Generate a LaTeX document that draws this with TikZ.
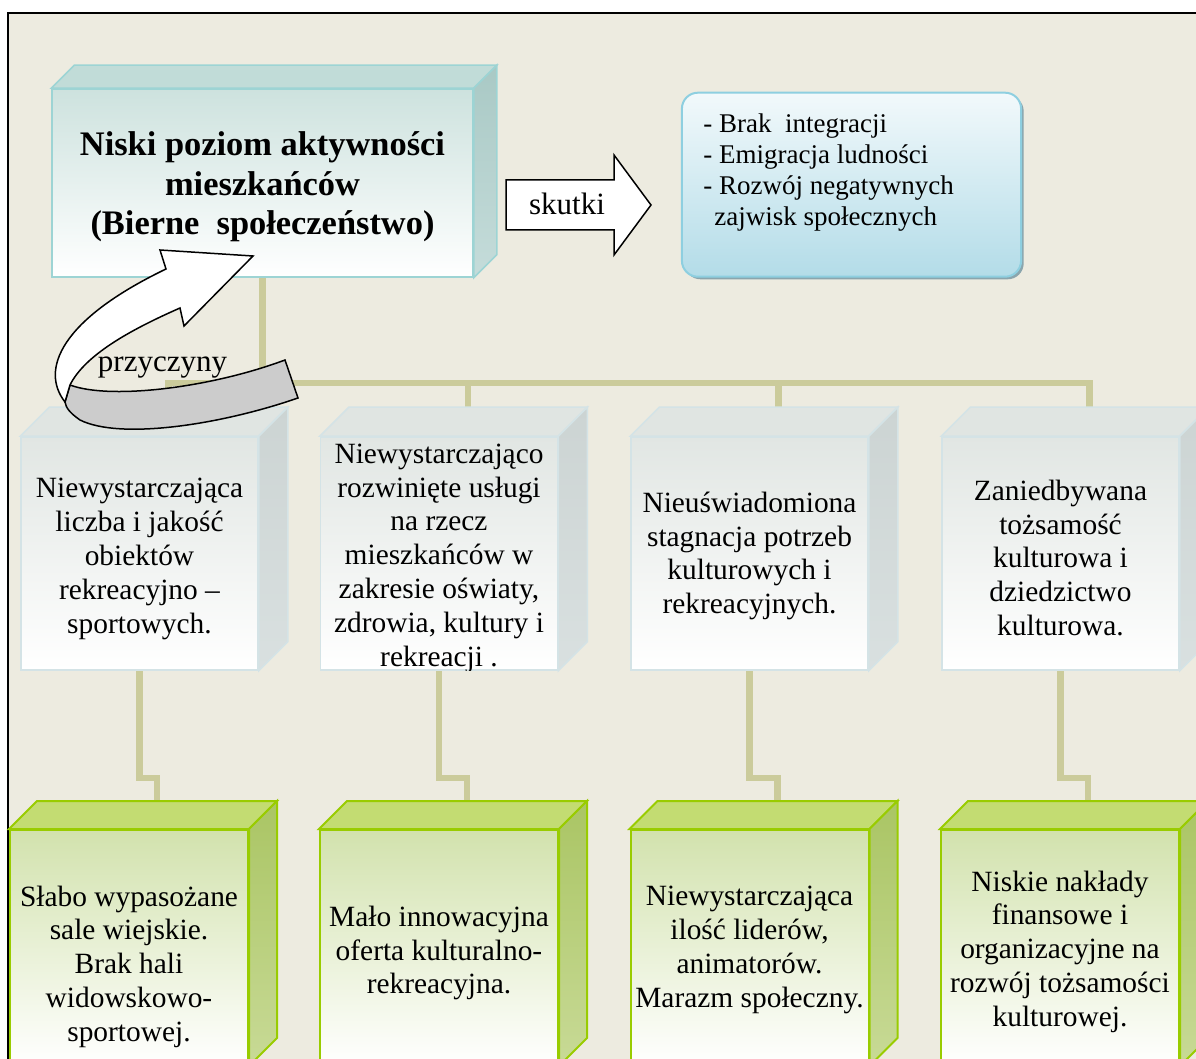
\documentclass[tikz,border=0pt]{standalone}
\usepackage{fontspec}
\setmainfont{Liberation Serif}
\usetikzlibrary{calc,shadows}
\pgfdeclarelayer{back}
\pgfdeclarelayer{wires}
\pgfsetlayers{back,wires,main}
\definecolor{bgc}{HTML}{EDEBE0}
\definecolor{connc}{HTML}{CBCB9B}
\definecolor{mainT}{HTML}{C1DCD8}
\definecolor{mainST}{HTML}{A9C9C5}
\definecolor{mainSB}{HTML}{C5DCDA}
\definecolor{mainFT}{HTML}{CDE2DE}
\definecolor{mainB}{HTML}{9DD4D4}
\definecolor{grayT}{HTML}{E0E5E2}
\definecolor{grayST}{HTML}{CCD4D3}
\definecolor{graySB}{HTML}{D9E0E0}
\definecolor{grayFT}{HTML}{E1E6E3}
\definecolor{grayB}{HTML}{D4E3E6}
\definecolor{greenT}{HTML}{C3DC72}
\definecolor{greenST}{HTML}{AAC564}
\definecolor{greenSB}{HTML}{C8DA96}
\definecolor{greenFT}{HTML}{D2E2AD}
\definecolor{greenB}{HTML}{99CC00}
\definecolor{blueT}{HTML}{F2F9FB}
\definecolor{blueBt}{HTML}{B3DCE8}
\definecolor{blueB}{HTML}{8ECFE0}
\definecolor{blueSh}{HTML}{8AA5AD}
\definecolor{arrowgray}{HTML}{CCCCCC}
\newcommand{\mkcube}[4]{%
  \path[#3] (#1.north west) -- ($(#1.north west)+(#2,-#2)$) -- ($(#1.north east)+(#2,-#2)$) -- (#1.north east) -- cycle;
  \path[#4] (#1.north east) -- ($(#1.north east)+(#2,-#2)$) -- ($(#1.south east)+(#2,-#2)$) -- (#1.south east) -- cycle;
}
\begin{document}
\begin{tikzpicture}[x=0.5pt,y=-0.5pt,
  conn/.style={draw=connc,line width=3.2pt},
  mainface/.style={draw=mainB,line width=0.75pt,top color=mainFT,bottom color=white,minimum width=210.5pt,minimum height=94pt,inner sep=0pt},
  maintop/.style={draw=mainB,line width=0.75pt,fill=mainT},
  mainside/.style={draw=mainB,line width=0.75pt,top color=mainST,bottom color=mainSB},
  grayface/.style={draw=grayB,line width=0.8pt,top color=grayFT,bottom color=white,minimum width=118.5pt,minimum height=116.5pt,inner sep=0pt},
  graytop/.style={draw=grayB,line width=0.8pt,fill=grayT},
  grayside/.style={draw=grayB,line width=0.8pt,top color=grayST,bottom color=graySB},
  greenface/.style={draw=greenB,line width=1pt,top color=greenFT,bottom color=white,minimum width=119pt,minimum height=117.5pt,inner sep=0pt},
  greentop/.style={draw=greenB,line width=1pt,fill=greenT},
  greenside/.style={draw=greenB,line width=1pt,top color=greenST,bottom color=greenSB},
  celltext/.style={align=center,font=\fontsize{14.7pt}{16.9pt}\selectfont,inner sep=0pt},
  arrowlabel/.style={font=\fontsize{15.5pt}{18pt}\selectfont,inner sep=0pt},
  outl/.style={draw=black,line width=0.75pt,line join=miter}
]
\useasboundingbox (0,0) rectangle (1196,1059);
\clip (0,0) rectangle (1196,1059);
\begin{pgfonlayer}{back}
\fill[white] (0,0) rectangle (1196,1059);
\draw[line width=1pt,fill=bgc] (8,13) rectangle (1215,1080);
\end{pgfonlayer}

% main box
\node[mainface] (m) at (262.5,183) {};
\mkcube{m}{23}{maintop}{mainside}
\node[align=center,inner sep=0pt,font=\fontsize{17.2pt}{19.75pt}\selectfont\bfseries] (mt) at (262.5,187)
  {Niski poziom aktywności\\mieszkańców\\(Bierne\ \ społeczeństwo)};

% skutki arrow
\path[outl,fill=white] (506,180) -- (614,180) -- (614,155) -- (651,205) -- (614,255) -- (614,230) -- (506,230) -- cycle;
\node[arrowlabel] (sk) at (567,204) {skutki};

% result box
\node[draw=blueB,line width=1pt,rounded corners=8pt,top color=blueT,bottom color=blueBt,
  minimum width=169.6pt,minimum height=92pt,inner sep=0pt,
  drop shadow={shadow xshift=1.3pt,shadow yshift=-1.3pt,fill=blueSh,opacity=1}] (r) at (851.5,184.7) {};
\node[anchor=north west,align=left,inner sep=0pt,font=\fontsize{13.5pt}{15.5pt}\selectfont] (rt) at (703,113.3)
  {- Brak\ \ integracji\\- Emigracja ludności\\- Rozwój negatywnych\\\hspace*{5.5pt}zajwisk społecznych};

% middle row
\node[grayface] (b1) at (139.5,553.5) {};
\node[grayface] (b2) at (439,553.5) {};
\node[grayface] (b3) at (749.5,553.5) {};
\node[grayface] (b4) at (1060.5,553.5) {};
\mkcube{b1}{29}{graytop}{grayside}
\mkcube{b2}{29}{graytop}{grayside}
\mkcube{b3}{29}{graytop}{grayside}
\mkcube{b4}{29}{graytop}{grayside}
\node[celltext] (t1) at (139.5,559) {Niewystarczająca\\liczba i jakość\\obiektów\\rekreacyjno –\\sportowych.};
\begin{scope}
\clip (b2.north west) rectangle (b2.south east);
\node[celltext] (t2) at (439,558) {Niewystarczająco\\rozwinięte usługi\\na rzecz\\mieszkańców w\\zakresie oświaty,\\zdrowia, kultury i\\rekreacji .};
\end{scope}
\node[celltext] (t3) at (749.5,556) {Nieuświadomiona\\stagnacja potrzeb\\kulturowych i\\rekreacyjnych.};
\node[celltext] (t4) at (1060.5,558) {Zaniedbywana\\tożsamość\\kulturowa i\\dziedzictwo\\kulturowa.};

% bottom row
\node[greenface] (g1) at (129,947.5) {};
\node[greenface] (g2) at (439,947.5) {};
\node[greenface] (g3) at (749.5,947.5) {};
\node[greenface] (g4) at (1060,947.5) {};
\mkcube{g1}{28}{greentop}{greenside}
\mkcube{g2}{28}{greentop}{greenside}
\mkcube{g3}{28}{greentop}{greenside}
\mkcube{g4}{28}{greentop}{greenside}
\node[celltext] (u1) at (129,966.7) {Słabo wypasożane\\sale wiejskie.\\Brak hali\\widowskowo-\\sportowej.};
\node[celltext] (u2) at (439,953) {Mało innowacyjna\\oferta kulturalno-\\rekreacyjna.};
\node[celltext] (u3) at (749.5,950) {Niewystarczająca\\ilość liderów,\\animatorów.\\Marazm społeczny.};
\node[celltext] (u4) at (1060,951.6) {Niskie nakłady\\finansowe i\\organizacyjne na\\rozwój tożsamości\\kulturowej.};

% connector coordinates
\coordinate (bus) at (0,383);
\coordinate (jog) at (0,778);
\foreach \b in {b1,b2,b3,b4} {\coordinate (\b k) at ($(\b.north)+(29,-29)$);}
\foreach \g in {g1,g2,g3,g4} {\coordinate (\g k) at ($(\g.north)+(28,-28)$);}
\begin{pgfonlayer}{wires}
\draw[conn] (m.south) -- (m.south |- bus);
\draw[conn] (b1k) -- (b1k |- bus) -- (b4k |- bus) -- (b4k);
\draw[conn] (b2k) -- (b2k |- bus);
\draw[conn] (b3k) -- (b3k |- bus);
\draw[conn] (b1.south) -- (b1.south |- jog) -| (g1k);
\draw[conn] (b2.south) -- (b2.south |- jog) -| (g2k);
\draw[conn] (b3.south) -- (b3.south |- jog) -| (g3k);
\draw[conn] (b4.south) -- (b4.south |- jog) -| (g4k);
\end{pgfonlayer}

% curved "przyczyny" arrow
\path[outl,fill=arrowgray] (70,385) .. controls (110,400) and (210,388) .. (285,360) -- (298,398)
  .. controls (220,425) and (120,440) .. (80,420) .. controls (70,413) and (66,408) .. (65,402) -- cycle;
\path[outl,fill=white] (65,402) .. controls (40,370) and (60,320) .. (166,269) -- (160,250) -- (253,256)
  -- (184,326) -- (180,308) .. controls (130,330) and (85,355) .. (70,385) -- cycle;
\node[arrowlabel] (pr) at (162.5,368) {przyczyny};
\end{tikzpicture}
\end{document}
